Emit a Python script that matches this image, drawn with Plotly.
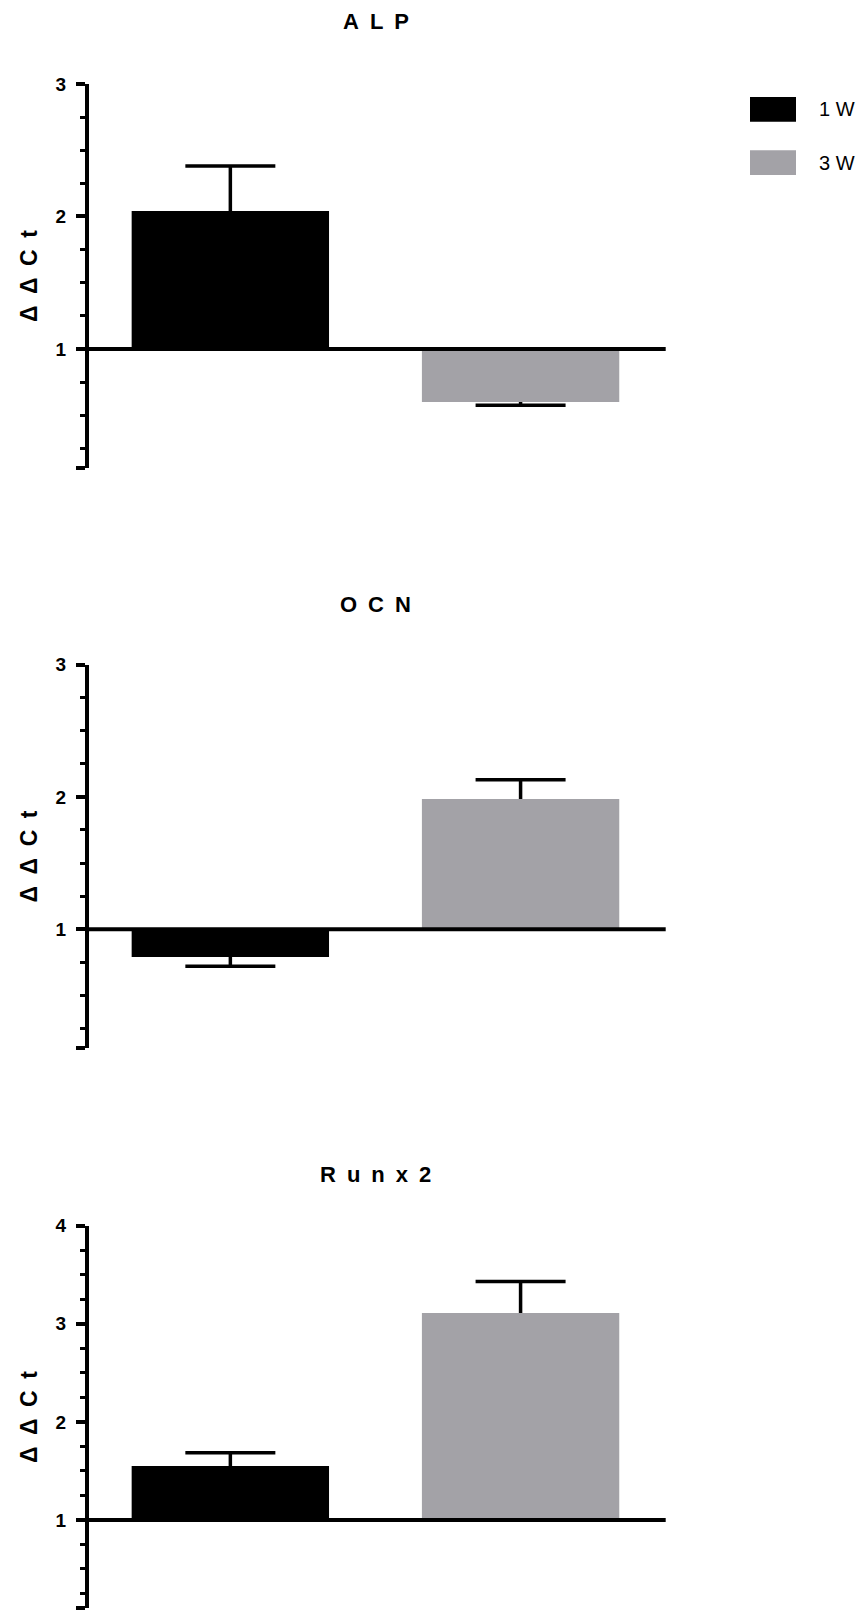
import plotly.graph_objects as go

# values (ΔΔCt, baseline 1)
groups = ["1 W", "3 W"]
colors = ["#000000", "#a3a2a7"]

genes = ["ALP", "OCN", "Runx2"]
alp_mean = [2.04, 0.60]
alp_err = [0.34, 0.025]
ocn_mean = [0.79, 1.985]
ocn_err = [0.07, 0.145]
runx2_mean = [1.55, 3.11]
runx2_err = [0.135, 0.32]
y_top = [3, 3, 4]
y_bottom = 0.1
baseline = 1

means = [alp_mean, ocn_mean, runx2_mean]
errs = [alp_err, ocn_err, runx2_err]

OFF = 8  # default body margin of the html page
W, H = 864 - OFF, 1610 - OFF
# page-pixel layout of each panel: (top of axis, bottom of axis)
panel_px = [(74.3, 461), (658.7, 1044.7), (1223.3, 1608.2)]
x_px = (89, 665.7)
x_range = [-0.487, 1.5]
title_y_px = [12, 598, 1172]


def px(p):
    return p - OFF


font_bold = "Liberation Sans, Arial"

fig = go.Figure()
layout = dict(
    width=W, height=H,
    margin=dict(l=0, r=0, t=0, b=0),
    plot_bgcolor="white", paper_bgcolor="white",
    showlegend=False,
    shapes=[], annotations=[],
)

for i, gene in enumerate(genes):
    n = "" if i == 0 else str(i + 1)
    xa, ya = "x" + n, "y" + n
    m = means[i]
    e = errs[i]
    up = [err if v > baseline else 0 for v, err in zip(m, e)]
    down = [err if v < baseline else 0 for v, err in zip(m, e)]
    ends = [v + u - d for v, u, d in zip(m, up, down)]
    fig.add_trace(go.Bar(
        x=groups, y=[v - baseline for v in m], base=baseline,
        marker=dict(color=colors, line=dict(width=0)),
        width=0.68, xaxis=xa, yaxis=ya, hoverinfo="skip"))
    # error stem (no caps)
    fig.add_trace(go.Scatter(
        x=groups, y=m, mode="markers", marker=dict(opacity=0, size=1),
        error_y=dict(type="data", symmetric=False, array=up, arrayminus=down,
                     width=0, thickness=3.5, color="black"),
        xaxis=xa, yaxis=ya, hoverinfo="skip"))
    # error cap at the far end only
    fig.add_trace(go.Scatter(
        x=groups, y=ends, mode="markers", marker=dict(opacity=0, size=1),
        error_y=dict(type="data", array=[0, 0], width=45, thickness=3.5, color="black"),
        xaxis=xa, yaxis=ya, hoverinfo="skip"))

    top, bot = panel_px[i]
    ydom = [1 - px(bot) / H, 1 - px(top) / H]
    layout["xaxis" + n] = dict(
        domain=[px(x_px[0]) / W, px(x_px[1]) / W], range=x_range, anchor=ya,
        showline=False, showticklabels=False, ticks="", showgrid=False, zeroline=False)
    ticks = [y_bottom] + list(range(1, y_top[i] + 1))
    layout["yaxis" + n] = dict(
        domain=ydom, range=[y_bottom, y_top[i]], anchor=xa,
        showline=True, linewidth=4, linecolor="black",
        ticks="outside", ticklen=9, tickwidth=3.5, tickcolor="black",
        tickvals=ticks, ticktext=[""] + [str(t) for t in ticks[1:]],
        ticklabelstandoff=6,
        tickfont=dict(family=font_bold, size=19, color="black", weight="bold"),
        minor=dict(dtick=0.25, tick0=0, ticks="outside", ticklen=5, tickwidth=3,
                   tickcolor="black", showgrid=False),
        showgrid=False, zeroline=False)
    layout["shapes"].append(dict(
        type="line", xref=xa + " domain", yref=ya, x0=0, x1=1, y0=baseline, y1=baseline,
        line=dict(color="black", width=4)))
    layout["annotations"].append(dict(
        text="\u2002".join(gene), xref="paper", yref="paper",
        x=(px(86) + px(x_px[1])) / 2 / W, y=1 - px(title_y_px[i]) / H,
        showarrow=False, xanchor="center", yanchor="middle",
        font=dict(family=font_bold, size=22, color="black", weight="bold")))
    layout["annotations"].append(dict(
        text="\u2002".join("ΔΔCt"), xref="paper", yref="paper",
        x=px(29) / W, y=(ydom[0] + ydom[1]) / 2,
        textangle=-90, showarrow=False, xanchor="center", yanchor="middle",
        font=dict(family=font_bold, size=23, color="black", weight="bold")))

# legend drawn as boxes + labels
leg_y = [(87.5, 112.5), (141, 166)]
for j, g in enumerate(groups):
    y0, y1 = leg_y[j]
    layout["shapes"].append(dict(
        type="rect", xref="paper", yref="paper",
        x0=px(750) / W, x1=px(796) / W, y0=1 - px(y1) / H, y1=1 - px(y0) / H,
        fillcolor=colors[j], line=dict(width=0)))
    layout["annotations"].append(dict(
        text=g, xref="paper", yref="paper", x=px(817) / W, y=1 - px((y0 + y1) / 2) / H,
        showarrow=False, xanchor="left", yanchor="middle",
        font=dict(family="Liberation Sans, Arial", size=20, color="black")))

fig.update_layout(**layout)
fig.write_html("out.html")
